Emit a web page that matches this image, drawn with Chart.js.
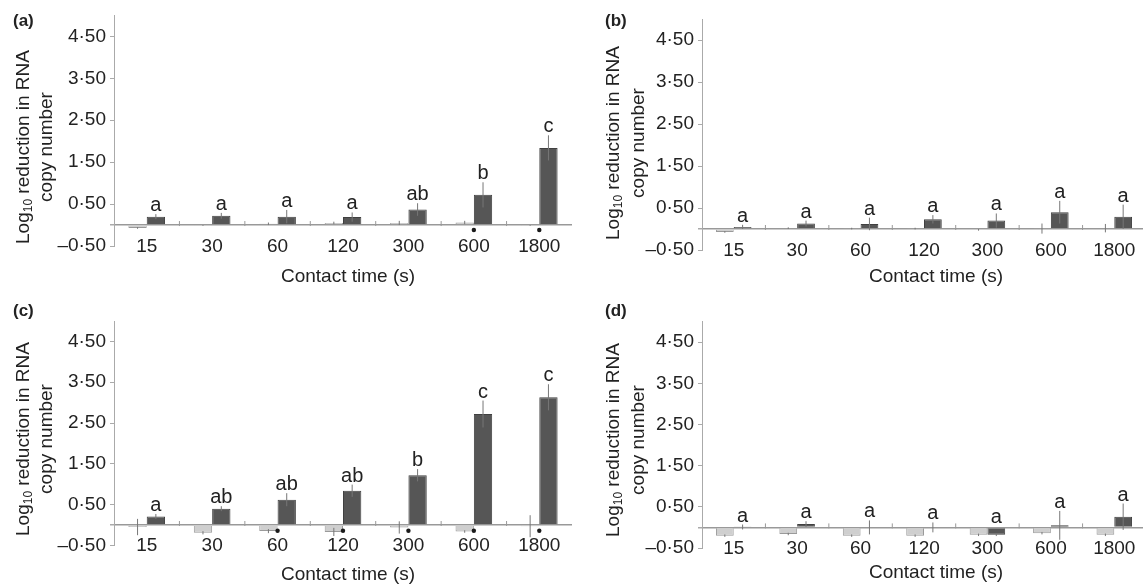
<!DOCTYPE html>
<html>
<head>
<meta charset="utf-8">
<script src="https://cdn.jsdelivr.net/npm/chart.js@4.4.1/dist/chart.umd.min.js"></script>
<style>
  html, body { margin: 0; padding: 0; background: #fff; width: 1143px; height: 585px; overflow: hidden; }
  canvas { position: absolute; left: 0; top: 0; }
</style>
</head>
<body>
<canvas id="panelA" width="1200" height="585"></canvas>
<canvas id="panelB" width="1200" height="585"></canvas>
<canvas id="panelC" width="1200" height="585"></canvas>
<canvas id="panelD" width="1200" height="585"></canvas>
<script>
// contact times (s)
const times = ['15', '30', '60', '120', '300', '600', '1800'];
const yTicks = [-0.5, 0, 0.5, 1.5, 2.5, 3.5, 4.5];

// (a)
const ctrlA = [-0.07, -0.01, 0.03, 0.05, 0.05, 0.06, -0.01];
const ctrlErrA = [0.02, 0.01, 0.03, 0.03, 0.05, 0.04, 0.01];
const treatA = [0.20, 0.22, 0.20, 0.19, 0.37, 0.72, 1.84];
const treatErrA = [0.06, 0.07, 0.16, 0.11, 0.15, 0.30, 0.30];
const lettersA = ['a', 'a', 'a', 'a', 'ab', 'b', 'c'];
const dotsA = [null, null, null, null, null, -0.12, -0.12];

// (b)
const ctrlB = [-0.07, 0.02, 0.01, 0.01, -0.02, 0.01, 0.02];
const ctrlErrB = [0.02, 0.02, 0.02, 0.02, 0.02, 0.12, 0.10];
const treatB = [0.05, 0.13, 0.12, 0.23, 0.20, 0.40, 0.29];
const treatErrB = [0.05, 0.07, 0.15, 0.10, 0.17, 0.27, 0.29];
const lettersB = ['a', 'a', 'a', 'a', 'a', 'a', 'a'];
const dotsB = [null, null, null, null, null, null, null];

// (c)
const ctrlC = [-0.05, -0.19, -0.15, -0.17, -0.06, -0.16, -0.03];
const ctrlErrC = [0.20, 0.04, 0.05, 0.10, 0.15, 0.03, 0.27];
const treatC = [0.21, 0.40, 0.62, 0.84, 1.22, 2.72, 3.13];
const treatErrC = [0.06, 0.06, 0.16, 0.15, 0.15, 0.33, 0.32];
const lettersC = ['a', 'ab', 'ab', 'ab', 'b', 'c', 'c'];
const dotsC = [null, null, -0.14, -0.14, -0.14, -0.14, -0.14];

// (d)
const ctrlD = [-0.20, -0.16, -0.20, -0.20, -0.18, -0.14, -0.18];
const ctrlErrD = [0.03, 0.03, 0.03, 0.03, 0.03, 0.03, 0.03];
const treatD = [0.01, 0.08, 0.00, 0.00, -0.18, 0.05, 0.26];
const treatErrD = [0.06, 0.07, 0.17, 0.12, 0.03, 0.35, 0.32];
const lettersD = ['a', 'a', 'a', 'a', 'a', 'a', 'a'];
const dotsD = [null, null, null, null, null, null, null];

const FONT = '"Liberation Sans", Arial, Helvetica, sans-serif';
const INK = '#222';

function fmt(v) {
    return v.toFixed(2).replace('.', '·').replace('-', '–');
}

// error bars, letters, zero-line ticks and titles
const deco = {
    id: 'deco',
    afterDatasetsDraw(chart, args, o) {
        const ctx = chart.ctx;
        const x = chart.scales.x, y = chart.scales.y;
        const zero = y.getPixelForValue(0);
        ctx.save();
        // little marks between categories on the zero line
        ctx.strokeStyle = '#999';
        ctx.lineWidth = 1;
        for (let i = 0; i < times.length - 1; i++) {
            const px = (x.getPixelForValue(i) + x.getPixelForValue(i + 1)) / 2;
            ctx.beginPath();
            ctx.moveTo(px, zero - 4);
            ctx.lineTo(px, zero + 1);
            ctx.stroke();
        }
        // error bars
        ctx.strokeStyle = '#777';
        [0, 1].forEach(d => {
            const meta = chart.getDatasetMeta(d);
            const vals = chart.data.datasets[d].data;
            meta.data.forEach((bar, i) => {
                const e = o.errs[d][i];
                ctx.beginPath();
                ctx.moveTo(bar.x, y.getPixelForValue(vals[i] + e));
                ctx.lineTo(bar.x, y.getPixelForValue(vals[i] - e));
                ctx.stroke();
            });
        });
        // letters above treated bars
        ctx.fillStyle = INK;
        ctx.font = '20px ' + FONT;
        ctx.textAlign = 'center';
        ctx.textBaseline = 'alphabetic';
        const meta = chart.getDatasetMeta(1);
        const vals = chart.data.datasets[1].data;
        meta.data.forEach((bar, i) => {
            const topVal = Math.max(vals[i] + o.errs[1][i], 0.03);
            ctx.fillText(o.letters[i], bar.x, y.getPixelForValue(topVal) - 3);
        });
        ctx.restore();
    },
    afterDraw(chart, args, o) {
        const ctx = chart.ctx;
        const P = o.pos;
        ctx.save();
        ctx.fillStyle = INK;
        // panel tag
        ctx.font = 'bold 17px ' + FONT;
        ctx.textAlign = 'left';
        ctx.textBaseline = 'middle';
        ctx.fillText(o.tag, P.tag[0], P.tag[1]);
        // x title
        ctx.font = '19px ' + FONT;
        ctx.textAlign = 'center';
        ctx.fillText('Contact time (s)', P.xt[0], P.xt[1]);
        // y title, two lines with subscript
        ctx.translate(P.yt1, P.ytY);
        ctx.rotate(-Math.PI / 2);
        const big = '19px ' + FONT, small = '12px ' + FONT;
        ctx.font = big;
        const w1 = ctx.measureText('Log').width;
        const w3 = ctx.measureText(' reduction in RNA').width;
        ctx.font = small;
        const w2 = ctx.measureText('10').width;
        let sx = -(w1 + w2 + w3) / 2;
        ctx.textAlign = 'left';
        ctx.font = big;
        ctx.fillText('Log', sx, 0);
        ctx.font = small;
        ctx.fillText('10', sx + w1, 5);
        ctx.font = big;
        ctx.fillText(' reduction in RNA', sx + w1 + w2, 0);
        ctx.textAlign = 'center';
        ctx.fillText('copy number', 0, P.yt2 - P.yt1);
        ctx.restore();
    }
};

function makePanel(id, tag, pos, ctrl, ctrlErr, treat, treatErr, letters, dots) {
    return new Chart(document.getElementById(id), {
        type: 'bar',
        data: {
            labels: times,
            datasets: [{
                label: 'control',
                data: ctrl,
                backgroundColor: '#cfcfcf',
                borderColor: '#9a9a9a',
                borderWidth: 1,
                categoryPercentage: 0.56,
                barPercentage: 1.0
            }, {
                label: 'treated',
                data: treat,
                backgroundColor: '#565656',
                borderColor: '#404040',
                borderWidth: 1,
                categoryPercentage: 0.56,
                barPercentage: 1.0
            }, {
                type: 'line',
                label: 'sig',
                data: dots,
                showLine: false,
                pointRadius: 2.2,
                pointBorderWidth: 0,
                pointBackgroundColor: '#1a1a1a',
                order: -1
            }]
        },
        options: {
            responsive: false,
            animation: false,
            layout: {
                padding: { left: 0, top: pos.top, right: 1200 - pos.right, bottom: 585 - pos.bottom - 20 }
            },
            plugins: {
                legend: { display: false },
                tooltip: { enabled: false },
                deco: { tag: tag, pos: pos, errs: [ctrlErr, treatErr], letters: letters }
            },
            scales: {
                x: {
                    grid: { display: false, drawTicks: false },
                    border: { display: false },
                    // mirror only switches off the label clip box here
                    ticks: { mirror: true, padding: -12, color: INK, font: { family: FONT, size: 19 } },
                    afterFit: s => { s.height = 20; }
                },
                y: {
                    min: -0.5,
                    max: 5.0,
                    afterBuildTicks: s => { s.ticks = yTicks.map(v => ({ value: v })); },
                    afterFit: s => { s.width = pos.left; },
                    border: { display: true, color: '#aaa', width: 1 },
                    grid: {
                        color: c => (c.tick && c.tick.value === 0) ? '#999' : 'rgba(0,0,0,0)',
                        lineWidth: c => (c.tick && c.tick.value === 0) ? 1.5 : 1,
                        tickColor: '#aaa',
                        tickLength: 4
                    },
                    ticks: {
                        padding: 4,
                        color: INK,
                        font: { family: FONT, size: 19 },
                        callback: v => v === 0 ? '' : fmt(v)
                    }
                }
            }
        },
        plugins: [deco]
    });
}

makePanel('panelA', '(a)',
    { left: 114, right: 572, top: 15, bottom: 246, tag: [13, 21], xt: [348, 277], yt1: 24, yt2: 47, ytY: 147 },
    ctrlA, ctrlErrA, treatA, treatErrA, lettersA, dotsA);
makePanel('panelB', '(b)',
    { left: 702, right: 1146, top: 19, bottom: 250, tag: [605, 21], xt: [936, 277], yt1: 614, yt2: 639, ytY: 143 },
    ctrlB, ctrlErrB, treatB, treatErrB, lettersB, dotsB);
makePanel('panelC', '(c)',
    { left: 114, right: 572, top: 321, bottom: 545.4, tag: [13, 311], xt: [348, 575], yt1: 24, yt2: 47, ytY: 439 },
    ctrlC, ctrlErrC, treatC, treatErrC, lettersC, dotsC);
makePanel('panelD', '(d)',
    { left: 702, right: 1146, top: 321.5, bottom: 548, tag: [605, 311], xt: [936, 573], yt1: 614, yt2: 639, ytY: 440 },
    ctrlD, ctrlErrD, treatD, treatErrD, lettersD, dotsD);
</script>
</body>
</html>
